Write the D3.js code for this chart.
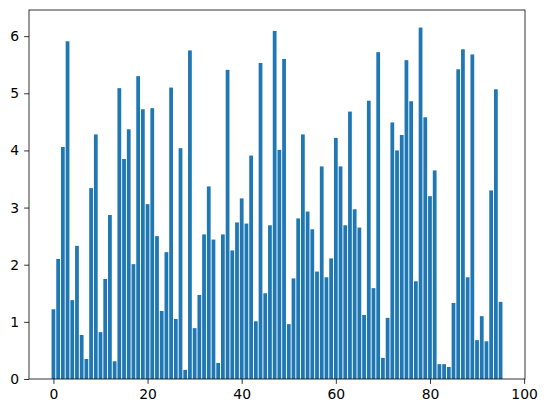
<!DOCTYPE html>
<html lang="en">
<head>
<meta charset="utf-8">
<script src="https://d3js.org/d3.v7.min.js"></script>
<style>
  body { margin: 0; background: #fff; }
  svg text { font-family: "DejaVu Sans", sans-serif; font-size: 13.9px; fill: #000; }
</style>
</head>
<body>
<svg id="chart" width="547" height="413"></svg>
<script>
// bar values, index 0..95
var values = [
  1.22, 2.10, 4.06, 5.91, 1.38, 2.33, 0.77, 0.35, 3.34, 4.28,
  0.82, 1.75, 2.87, 0.31, 5.09, 3.85, 4.37, 2.01, 5.30, 4.72,
  3.06, 4.74, 2.50, 1.19, 2.22, 5.10, 1.05, 4.04, 0.16, 5.75,
  0.89, 1.47, 2.53, 3.37, 2.44, 0.28, 2.53, 5.41, 2.25, 2.74,
  3.16, 2.72, 3.91, 1.01, 5.53, 1.50, 2.69, 6.09, 4.01, 5.60,
  0.96, 1.76, 2.81, 4.28, 2.93, 2.62, 1.88, 3.72, 1.78, 2.11,
  4.22, 3.72, 2.69, 4.68, 2.97, 2.65, 1.12, 4.87, 1.59, 5.72,
  0.37, 1.07, 4.49, 4.00, 4.27, 5.58, 4.86, 1.71, 6.15, 4.58,
  3.20, 3.65, 0.26, 0.26, 0.21, 1.33, 5.42, 5.77, 1.78, 5.68,
  0.68, 1.10, 0.66, 3.30, 5.07, 1.35
];
var xTicks = [0, 20, 40, 60, 80, 100];
var yTicks = [0, 1, 2, 3, 4, 5, 6];

var svg = d3.select("#chart");
var plotL = 29, plotR = 525, plotT = 10, plotB = 379;
var barW = 0.8;

// matplotlib-style 5% margins on x, 5% headroom on y
var x0 = -barW / 2, x1 = values.length - 1 + barW / 2;
var pad = (x1 - x0) * 0.05;
var x = d3.scaleLinear().domain([x0 - pad, x1 + pad]).range([plotL, plotR]);
var y = d3.scaleLinear().domain([0, d3.max(values) * 1.05]).range([plotB, plotT]);

svg.selectAll("rect.bar")
  .data(values)
  .enter().append("rect")
    .attr("class", "bar")
    .attr("x", function(d, i) { return x(i - barW / 2); })
    .attr("width", function(d, i) { return x(i + barW / 2) - x(i - barW / 2); })
    .attr("y", function(d) { return y(d); })
    .attr("height", function(d) { return y(0) - y(d); })
    .attr("fill", "#1f77b4");

var xAxis = d3.axisBottom(x).tickValues(xTicks).tickSize(4.9).tickPadding(4.9).tickFormat(d3.format("d"));
var yAxis = d3.axisLeft(y).tickValues(yTicks).tickSize(4.9).tickPadding(4.9).tickFormat(d3.format("d"));

var gx = svg.append("g").attr("transform", "translate(0," + plotB + ")").call(xAxis);
var gy = svg.append("g").attr("transform", "translate(" + plotL + ",0)").call(yAxis);
[gx, gy].forEach(function(g) {
  g.select(".domain").remove();
  g.selectAll(".tick line").attr("stroke", "#000").attr("stroke-width", 0.8);
  g.selectAll(".tick text").attr("font-size", null).attr("font-family", null);
});

// frame
svg.append("rect")
  .attr("x", plotL).attr("y", plotT)
  .attr("width", plotR - plotL).attr("height", plotB - plotT)
  .attr("fill", "none").attr("stroke", "#000").attr("stroke-width", 0.8);
</script>
</body>
</html>
